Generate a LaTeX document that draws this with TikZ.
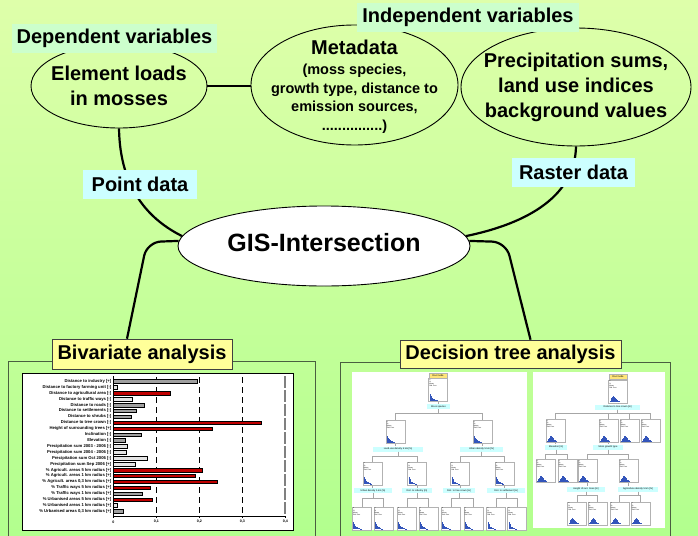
\documentclass[tikz,border=0pt]{standalone}
\usepackage{fontspec}
\setmainfont{Liberation Sans}
\usetikzlibrary{shapes.geometric, backgrounds, positioning}

\definecolor{bgtop}{HTML}{DEFFAA}
\definecolor{bgbot}{HTML}{B2FF8E}
\definecolor{mint}{HTML}{CCFFCC}
\definecolor{skyc}{HTML}{CCFFFF}
\definecolor{lemon}{HTML}{FFFF99}
\definecolor{panelc}{HTML}{4A5E40}
\definecolor{barred}{HTML}{C00000}
\definecolor{bargrey}{HTML}{A0A0A0}
\definecolor{barlight}{HTML}{E4E4E4}
\definecolor{histblue}{HTML}{3355BB}

\tikzset{
  bubble/.style={ellipse, draw, line width=0.9pt, inner sep=0pt},
  bubtext/.style={inner sep=0pt, align=center},
  tag/.style={inner sep=0pt, minimum height=29pt, font=\bfseries\fontsize{20}{24}\selectfont},
  heading/.style={tag, draw=black!75, line width=0.6pt, fill=lemon},
  link/.style={line width=2.2pt},
  panel/.style={draw=panelc, line width=1.4pt, inner sep=0pt, anchor=north west},
  sheet/.style={fill=white, inner sep=0pt, anchor=north west},
  barlab/.style={anchor=east, inner sep=0pt, font=\bfseries\fontsize{4.2}{4.2}\selectfont},
  ticklab/.style={inner sep=0pt, font=\bfseries\fontsize{3.6}{3.6}\selectfont},
  tline/.style={draw=gray!70, line width=0.35pt},
  split/.style={fill=skyc, inner sep=0pt, minimum height=5pt, font=\fontsize{2.4}{2.4}\selectfont},
  rootlab/.style={fill=lemon!80!orange, draw=gray!60, line width=0.3pt, inner sep=0pt,
    minimum width=18pt, minimum height=5pt, font=\fontsize{2.4}{2.4}\selectfont},
  tnode/.style={draw=gray!60, fill=white, line width=0.3pt, inner sep=0pt,
    minimum width=19pt, minimum height=23pt,
    label={[anchor=north west, inner sep=0.8pt, align=left, font=\fontsize{1.8}{2.2}\selectfont]north west:{n\\\%\\Mean\\Std. Dev.}},
    path picture={\foreach \h [count=\k] in {#1}
      \fill[histblue] ([xshift=\k*0.9pt+0.2pt, yshift=1pt]path picture bounding box.south west) rectangle ++(0.9pt,\h pt);}},
}

\begin{document}
\begin{tikzpicture}[x=1pt, y=-1pt, >=stealth]
  \useasboundingbox (0,0) rectangle (698,535);
  \begin{scope}[on background layer]
    \shade[top color=bgtop, bottom color=bgbot] (0,0) rectangle (698,535);
  \end{scope}
  \clip (0,0) rectangle (698,535);

  % upper part
  \node[bubble, minimum width=176pt, minimum height=84pt] (loads) at (119,86) {};
  \node[bubble, minimum width=207pt, minimum height=120pt] (meta) at (354.5,85) {};
  \node[bubble, minimum width=230pt, minimum height=118pt] (precip) at (576,87) {};
  \node[bubble, fill=white, minimum width=292pt, minimum height=80pt] (gis) at (324,246) {};

  \node[bubtext, font=\bfseries\fontsize{20}{25}\selectfont] (loadstxt) at (loads) {Element loads\\in mosses};
  \node[bubtext, font=\bfseries\fontsize{14.5}{18.5}\selectfont] (metatxt) at ([yshift=-2pt]meta.center)
    {{\fontsize{20}{22}\selectfont Metadata}\\[1.5pt]
     (moss species,\\growth type, distance to\\emission sources,\\...............)};
  \node[bubtext, font=\bfseries\fontsize{20}{25}\selectfont] (precipttxt) at (precip) {Precipitation sums,\\land use indices\\background values};
  \node[bubtext, font=\bfseries\fontsize{25}{28}\selectfont] (gistxt) at ([yshift=3pt]gis.center) {GIS-Intersection};

  \node[tag, fill=mint, minimum width=205pt] (dep) at (114.5,38.5) {Dependent variables};
  \node[tag, fill=mint, minimum width=222pt] (indep) at (468,17.5) {Independent variables};
  \node[tag, fill=skyc, minimum width=114pt] (point) at (140,184.5) {Point data};
  \node[tag, fill=skyc, minimum width=123pt] (raster) at (573.5,172.5) {Raster data};

  % lower panels
  \node[panel, minimum width=307pt, minimum height=190pt] (lpanel) at (8,361) {};
  \node[panel, minimum width=330pt, minimum height=190pt] (rpanel) at (340,362) {};
  \node[heading, minimum width=180pt, minimum height=30pt] (bivar) at (142,354) {Bivariate analysis};
  \node[heading, minimum width=221pt, minimum height=28pt] (dtree) at (510.5,354) {Decision tree analysis};

  \begin{scope}[on background layer]
    \draw[link] (loads.east) -- (loads.east -| meta.west);
    \draw[link] (loads.south) .. controls (120,190) and (150,220) .. (gis.176);
    \draw[link] (precip.south) .. controls (575,200) and (520,225) .. (gis.4);
    \draw[link, rounded corners=14pt] (gis.178) -- (147,242) -- ([xshift=-15pt]bivar.north);
    \draw[link, rounded corners=14pt] (gis.2) -- (506,242) -- ([xshift=20pt]dtree.north);
  \end{scope}

  % bar chart
  \node[sheet, draw, line width=1.3pt, minimum width=271pt, minimum height=157pt] (chart) at (22,373) {};
  \foreach \v in {1,2,3}
    \draw[line width=0.8pt, dash pattern=on 6pt off 4pt] ({113.3+43*\v},377) -- ({113.3+43*\v},516);
  \draw[gray, line width=1.8pt, dash pattern=on 12pt off 2pt] (285.3,376) -- (285.3,516);
  \draw[line width=0.8pt] (113.3,376) -- (113.3,516) -- (285.3,516);
  \foreach \v/\t in {0/0, 1/{0,1}, 2/{0,2}, 3/{0,3}, 4/{0,4}} {
    \draw[line width=0.4pt] ({113.3+43*\v},516) -- ({113.3+43*\v},517.5);
    \node[ticklab] (tick\v) at ({113.3+43*\v},522) {\t};
  }
  \foreach \lab/\val/\col [count=\i] in {
      Distance to industry [+]/0.194/bargrey,
      Distance to factory farming unit [-]/0.009/barlight,
      Distance to agricultural area [-]/0.132/barred,
      Distance to traffic ways [-]/0.044/barlight,
      Distance to roads [-]/0.071/bargrey,
      Distance to settlements [-]/0.053/bargrey,
      Distance to shrubs [-]/0.042/bargrey,
      Distance to tree crown [-]/0.345/barred,
      Height of surrounding trees [+]/0.231/barred,
      Inclination [-]/0.064/bargrey,
      Elevation [-]/0.028/bargrey,
      Precipitation sum 2003 - 2006 [-]/0.033/barlight,
      Precipitation sum 2004 - 2006 [-]/0.031/barlight,
      Precipitation sum Oct 2006 [-]/0.078/barlight,
      Precipitation sum Sep 2006 [+]/0.050/barlight,
      \% Agricult. areas 5 km radius [+]/0.207/barred,
      \% Agricult. areas 1 km radius [+]/0.190/barred,
      {\% Agricult. areas 0,3 km radius [+]}/0.241/barred,
      \% Traffic ways 5 km radius [+]/0.085/barred,
      \% Traffic ways 1 km radius [+]/0.068/bargrey,
      \% Urbanised areas 5 km radius [+]/0.090/barred,
      \% Urbanised areas 1 km radius [+]/0.010/barlight,
      {\% Urbanised areas 0,3 km radius [+]}/0.022/bargrey} {
    \pgfmathsetmacro\yy{381.3+(\i-1)*5.91}
    \node[barlab] (lab\i) at (111.5,\yy) {\lab};
    \draw[fill=\col, line width=0.35pt] (113.3,\yy-1.8) rectangle ({113.3+430*\val},\yy+1.8);
  }

  % decision trees
  \node[sheet, minimum width=175pt, minimum height=158pt] (treeA) at (351.7,371.7) {};
  \node[sheet, minimum width=132pt, minimum height=156pt] (treeB) at (533,371.7) {};

  \foreach \nm/\x/\y in {a0/438/390, a1/395.5/432, a2/482.5/432, a3/372.5/473.5, a4/417/473.5,
      a5/460/473.5, a6/504.5/473.5, a7/361.7/518.5, a8/383.3/518.5, a9/406.7/518.5,
      a10/428.3/518.5, a11/450.7/518.5, a12/473.3/518.5, a13/496/518.5, a14/517/518.5}
    \node[tnode={7,5,3.5,2.4,1.6,1.1,.7,.5,.3}] (\nm) at (\x,\y) {};
  \foreach \nm/\x/\y in {b0/618/391.5, b1/555.5/431, b2/608.5/431, b3/629.5/431, b4/650.5/431,
      b5/545.5/471, b6/567.5/471, b7/587.5/471, b8/628.5/471, b9/577/513.5, b10/597.5/513.5,
      b11/619.5/513.5, b12/640.5/513.5}
    \node[tnode={1,2.5,4,5.5,6,5,4,3,2,1.2,.6}] (\nm) at (\x,\y) {};

  \node[rootlab] (ra) at (438,375.5) {Root node};
  \node[rootlab] (rb) at (618,377) {Root node};

  \foreach \nm/\x/\y/\w/\t in {sa0/438.5/406.5/23/Moss species,
      sa1/398/449/50/Land-use density 5 km [\%], sa2/481.5/449/43/Urban density 5 km [\%],
      sa3/373/490.5/38/Urban density 5 km [\%], sa4/417/490.5/30/Dist. to industry [m],
      sa5/459/490.5/32/Dist. to tree crown [m], sa6/506/490.5/38/Dist. to settlement [m],
      sb0/617.5/407/45/Distance to tree crown [m], sb1/556/447/22/Elevation [m],
      sb2/608/447/30/Moss growth type, sb7/586/489/38/Height of surr. trees [m],
      sb8/638/489/40/Agriculture density 5 km [\%]}
    \node[split, minimum width=\w pt] (\nm) at (\x,\y) {\t};

  \foreach \n/\s in {a0/sa0, a1/sa1, a2/sa2, a3/sa3, a4/sa4, a5/sa5, a6/sa6,
      b0/sb0, b1/sb1, b2/sb2, b7/sb7, b8/sb8}
    \draw[tline] (\n.south) -- (\n.south |- \s.north);
  \foreach \s/\c/\d in {sa0/a1/4, sa0/a2/4, sa1/a3/4, sa1/a4/4, sa2/a5/4, sa2/a6/4,
      sa3/a7/5, sa3/a8/5, sa4/a9/5, sa4/a10/5, sa5/a11/5, sa5/a12/5, sa6/a13/5, sa6/a14/5,
      sb0/b1/3, sb0/b2/3, sb0/b3/3, sb0/b4/3, sb1/b5/4, sb1/b6/4, sb2/b7/4, sb2/b8/4,
      sb7/b9/3, sb7/b10/3, sb8/b11/3, sb8/b12/3}
    \draw[tline] (\s.south) -- ++(0,\d) -| (\c.north);
\end{tikzpicture}
\end{document}
